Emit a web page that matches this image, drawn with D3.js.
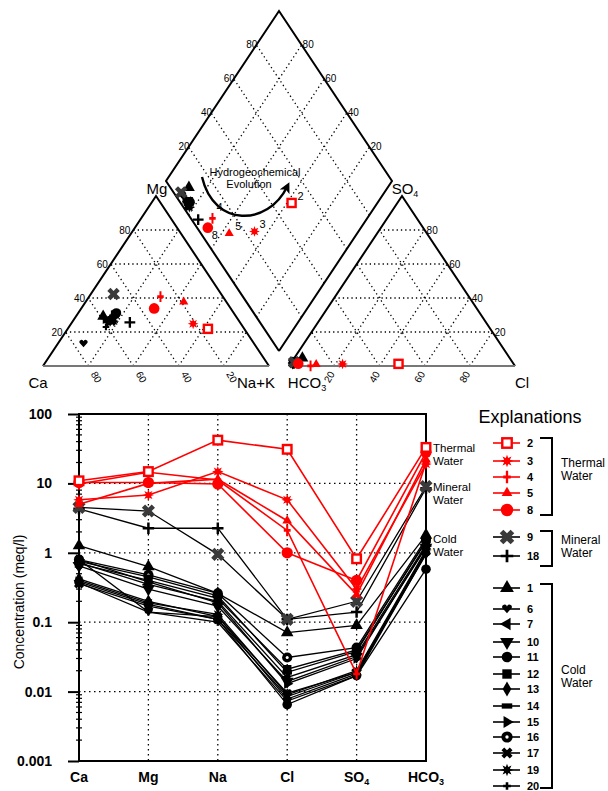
<!DOCTYPE html>
<html><head><meta charset="utf-8">
<script src="https://cdn.jsdelivr.net/npm/d3@7"></script>
<style>body{margin:0;background:#fff}svg{display:block;font-family:Arial,"Liberation Sans",Helvetica,sans-serif}</style>
</head><body><svg id="c" width="608" height="791"></svg>
<script>
// ---------------- DATA ----------------
const ions = ["Ca","Mg","Na","Cl","SO4","HCO3"];
const sampleIds = ["2","3","4","5","8","9","18","1","6","7","10","11","12","13","14","15","16","17","19","20"];
const sampleGroup = ["T","T","T","T","T","M","M","C","C","C","C","C","C","C","C","C","C","C","C","C"];
const sampleShape = ["sqOpen","burst","plusThin","tent","circleL","xcross","plus","triUp","heart","triLeft","triDown","circle","square","diamond","rect","triRight","ringDot","bowtie","burst","plusSmall"];
// concentrations (meq/l)
const ca   = [10.9, 5.8, 9.8, 5.0, 10.3, 4.5, 4.3, 1.27, 0.80, 0.72, 0.65, 0.38, 0.70, 0.42, 0.75, 0.80, 0.80, 0.36, 0.40, 0.37];
const mg   = [14.8, 6.8, 14.5, 10.0, 10.3, 4.0, 2.26, 0.63, 0.14, 0.35, 0.30, 0.18, 0.40, 0.20, 0.45, 0.38, 0.48, 0.17, 0.19, 0.14];
const na   = [42, 14.8, 11.2, 11.5, 9.8, 0.95, 2.26, 0.26, 0.12, 0.20, 0.17, 0.11, 0.22, 0.12, 0.24, 0.19, 0.26, 0.11, 0.13, 0.10];
const cl   = [31, 5.8, 2.1, 2.9, 1.0, 0.11, 0.11, 0.071, 0.0095, 0.016, 0.014, 0.0065, 0.021, 0.0078, 0.019, 0.013, 0.031, 0.0085, 0.009, 0.0073];
const so4  = [0.82, 0.30, 0.018, 0.25, 0.40, 0.20, 0.14, 0.09, 0.019, 0.034, 0.032, 0.017, 0.040, 0.018, 0.038, 0.030, 0.043, 0.019, 0.020, 0.017];
const hco3 = [33, 19, 20, 22, 28, 9.0, 8.5, 1.8, 0.95, 1.3, 1.2, 0.58, 1.45, 1.0, 1.5, 1.25, 1.6, 1.05, 1.1, 0.98];
const yTicks = [100, 10, 1, 0.1, 0.01, 0.001];
const yTickLabels = ["100","10","1","0.1","0.01","0.001"];
const pctTicks = [20, 40, 60, 80];
const groupNames = {T:["Thermal","Water"], M:["Mineral","Water"], C:["Cold","Water"]};
const groupColor = {T:"#ff0000", M:"#000", C:"#000"};

// ---------------- HELPERS ----------------
const svg = d3.select("#c");
svg.append("rect").attr("width",608).attr("height",791).attr("fill","#fff");

function starPath(ro, ri, n){
  const p=[]; for(let i=0;i<2*n;i++){const r=i%2?ri:ro; const a=Math.PI*i/n-Math.PI/2; p.push([r*Math.cos(a),r*Math.sin(a)]);}
  return "M"+p.map(d=>d[0].toFixed(2)+","+d[1].toFixed(2)).join("L")+"Z";
}
function drawMarker(g, shape, color, s){
  s = s||1;
  const m = g.append("g");
  const sym = (type,size,rot)=> m.append("path").attr("d", d3.symbol(type,size*s*s)()).attr("fill",color).attr("transform", rot?`rotate(${rot})`:null);
  switch(shape){
    case "sqOpen": m.append("rect").attr("x",-4.5*s).attr("y",-4.5*s).attr("width",9*s).attr("height",9*s).attr("fill","#fff").attr("stroke",color).attr("stroke-width",2.4); break;
    case "burst": m.append("path").attr("d",starPath(6*s,3*s,8)).attr("fill",color); break;
    case "plusThin": m.append("path").attr("d",`M${-1.1*s},${-6*s}h${2.2*s}v${4.5*s}h${2.5*s}v${3*s}h${-2.5*s}v${4.5*s}h${-2.2*s}v${-4.5*s}h${-2.5*s}v${-3*s}h${2.5*s}z`).attr("fill",color); break;
    case "tent": sym(d3.symbolTriangle,45); break;
    case "circleL": sym(d3.symbolCircle,110); break;
    case "xcross": sym(d3.symbolCross,120,45); break;
    case "plus": m.append("path").attr("d",`M${-1.3*s},${-6*s}h${2.6*s}v${4.7*s}h${4.7*s}v${2.6*s}h${-4.7*s}v${4.7*s}h${-2.6*s}v${-4.7*s}h${-4.7*s}v${-2.6*s}h${4.7*s}z`).attr("fill",color); break;
    case "triUp": sym(d3.symbolTriangle,75); break;
    case "heart": m.append("path").attr("d",`M0,${4*s}L${-4.5*s},${-1*s}A${2.3*s},${2.3*s} 0 0 1 0,${-2.5*s}A${2.3*s},${2.3*s} 0 0 1 ${4.5*s},${-1*s}Z`).attr("fill",color); break;
    case "triLeft": sym(d3.symbolTriangle,60,-90); break;
    case "triDown": sym(d3.symbolTriangle,75,180); break;
    case "circle": sym(d3.symbolCircle,80); break;
    case "square": sym(d3.symbolSquare,80); break;
    case "diamond": sym(d3.symbolDiamond,60); break;
    case "rect": m.append("rect").attr("x",-5*s).attr("y",-2.5*s).attr("width",10*s).attr("height",5*s).attr("fill",color); break;
    case "triRight": sym(d3.symbolTriangle,55,90); break;
    case "ringDot": sym(d3.symbolCircle,90); m.append("circle").attr("r",1.6*s).attr("fill","#fff"); break;
    case "bowtie": sym(d3.symbolCross,70,45); break;
    case "plusSmall": sym(d3.symbolCross,30); break;
  }
  return m;
}
const colorOf = i => sampleIds[i]==="9" ? "#3a3a3a" : groupColor[sampleGroup[i]];
const lineColorOf = i => groupColor[sampleGroup[i]];

// ---------------- PIPER ----------------
const PX0=43, PYB=366, PW=226, PH=170, PG=20, gu=PG/PW;
const toPx = ([u,v]) => [PX0+u*PW, PYB-v*PH];
const catU = (c,m,n)=>{const t=c+m+n; return [n/t+(m/t)/2, m/t];};
const anU  = (h,s,c)=>{const t=h+s+c; return [1+gu+c/t+(s/t)/2, s/t];};
const diaU = (p1,p2)=>{const t=(p2[0]-p1[0])+(p2[1]-p1[1])/2; return [p1[0]+0.5*t, p1[1]+t];};
const D = (a,b)=>[1+gu/2-0.5*a+0.5*b, gu+a+b];
const ox = 1+gu;
const pip = svg.append("g");
const gridG = pip.append("g").attr("stroke","#000").attr("stroke-width",1.3).attr("stroke-dasharray","1.3,3").attr("fill","none");
const seg = (a,b)=>{const p=toPx(a),q=toPx(b); gridG.append("line").attr("x1",p[0]).attr("y1",p[1]).attr("x2",q[0]).attr("y2",q[1]);};
pctTicks.forEach(k=>{
  const f=k/100;
  seg([f/2,f],[1-f/2,f]); seg([f,0],[f+(1-f)/2,1-f]); seg([1-f,0],[(1-f)/2,1-f]);
  seg([ox+f/2,f],[ox+1-f/2,f]); seg([ox+f,0],[ox+f+(1-f)/2,1-f]); seg([ox+1-f,0],[ox+(1-f)/2,1-f]);
  seg(D(f,0),D(f,1)); seg(D(0,f),D(1,f));
});
const outline = (pts,col)=>{pip.append("path").attr("d",d3.line()(pts.map(toPx))).attr("fill","none").attr("stroke",col).attr("stroke-width",2).attr("stroke-linejoin","miter");};
outline([[0,0],[0.5,1],[1,0]],"#000"); outline([[0,0],[1,0]],"#777");
outline([[ox,0],[ox+0.5,1],[ox+1,0]],"#000"); outline([[ox,0],[ox+1,0]],"#777");
outline([D(0,0),D(1,0),D(1,1),D(0,1),D(0,0)],"#000");

// tick labels
const tl = pip.append("g").attr("font-size",10).attr("fill","#000");
pctTicks.forEach(k=>{
  const f=k/100;
  let p=toPx([f/2,f]); tl.append("text").attr("x",p[0]-3).attr("y",p[1]+4).attr("text-anchor","end").text(k);
  p=toPx([ox+1-f/2,f]); tl.append("text").attr("x",p[0]+2).attr("y",p[1]+4).text(k);
  p=toPx(D(1,f)); tl.append("text").attr("x",p[0]+1).attr("y",p[1]+3).attr("text-anchor","end").text(k);
  p=toPx(D(f,1)); tl.append("text").attr("x",p[0]+1).attr("y",p[1]+3).text(k);
  p=toPx([1-f,0]); tl.append("text").attr("transform",`translate(${p[0]+8},${p[1]+11}) rotate(60)`).attr("text-anchor","middle").attr("dy","0.35em").text(k);
  p=toPx([ox+f,0]); tl.append("text").attr("transform",`translate(${p[0]-5},${p[1]+11}) rotate(-60)`).attr("text-anchor","middle").attr("dy","0.35em").text(k);
});
// corner labels
const cl1 = pip.append("g").attr("font-size",15).attr("fill","#000").attr("text-anchor","middle");
cl1.append("text").attr("x",157).attr("y",194).text("Mg");
const so = cl1.append("text").attr("x",405).attr("y",194); so.append("tspan").text("SO"); so.append("tspan").attr("font-size",9).attr("dy",3).text("4");
cl1.append("text").attr("x",38).attr("y",388).text("Ca");
cl1.append("text").attr("x",256).attr("y",388).text("Na+K");
const hc = cl1.append("text").attr("x",307).attr("y",388); hc.append("tspan").text("HCO"); hc.append("tspan").attr("font-size",9).attr("dy",3).text("3");
cl1.append("text").attr("x",522).attr("y",388).text("Cl");

// evolution arrow
svg.append("defs").append("marker").attr("id","ah").attr("viewBox","0 0 10 10").attr("refX",5).attr("refY",5)
  .attr("markerWidth",4.5).attr("markerHeight",4.5).attr("orient","auto")
  .append("path").attr("d","M0,0L10,5L0,10L2.5,5Z").attr("fill","#000");
pip.append("path").attr("d","M202,177 C214,228 268,226 287,187").attr("fill","none").attr("stroke","#000").attr("stroke-width",2.4).attr("marker-end","url(#ah)");
pip.append("text").attr("x",255).attr("y",176).attr("font-size",11).attr("text-anchor","middle").text("Hydrogeochemical");
pip.append("text").attr("x",249).attr("y",188).attr("font-size",11).attr("text-anchor","middle").text("Evolution");

// points: cold first, then mineral, then thermal
const order = d3.range(sampleIds.length).reverse();
const ptG = pip.append("g");
const thermalLabelOff = {"2":[6,-3],"3":[5,-3],"4":[4,-7],"5":[6,-3],"8":[4,11]};
order.forEach(i=>{
  const c = catU(ca[i],mg[i],na[i]);
  const a = anU(hco3[i],so4[i],cl[i]);
  const d = diaU(c,a);
  [c,a,d].forEach(u=>{const p=toPx(u); drawMarker(ptG,sampleShape[i],colorOf(i),0.9).attr("transform",`translate(${p[0]},${p[1]})`);});
  if(sampleGroup[i]==="T"){
    const p=toPx(d), o=thermalLabelOff[sampleIds[i]];
    ptG.append("text").attr("x",p[0]+o[0]).attr("y",p[1]+o[1]).attr("font-size",11).text(sampleIds[i]);
  }
});

// ---------------- SCHOELLER ----------------
const x = d3.scalePoint().domain(ions).range([79,426]);
const y = d3.scaleLog().domain([0.001,100]).range([761,414]);
const sch = svg.append("g");
const grid2 = sch.append("g").attr("stroke","#000").attr("stroke-width",1.3).attr("stroke-dasharray","1.5,3.5");
ions.slice(1,5).forEach(k=>grid2.append("line").attr("x1",x(k)).attr("x2",x(k)).attr("y1",414).attr("y2",761));
yTicks.slice(1,5).forEach(v=>grid2.append("line").attr("x1",79).attr("x2",426).attr("y1",y(v)).attr("y2",y(v)));
// frame
sch.append("rect").attr("x",79).attr("y",414).attr("width",347).attr("height",347).attr("fill","none").attr("stroke","#000").attr("stroke-width",2);
// y axis ticks
const yAxis = d3.axisLeft(y).tickValues(yTicks).tickSize(11).tickFormat((d,i)=>yTickLabels[i]);
const ya = sch.append("g").attr("transform","translate(79,0)").call(yAxis);
ya.select(".domain").remove();
ya.selectAll(".tick line").attr("stroke-width",2);
ya.selectAll("text").attr("font-size",14).attr("font-weight","bold").attr("x",-27).attr("font-family","Arial,'Liberation Sans',sans-serif");
const minor=[]; for(let e=-3;e<2;e++) for(let m=2;m<10;m++) minor.push(m*Math.pow(10,e));
sch.append("g").selectAll("line").data(minor).join("line").attr("x1",76).attr("x2",82).attr("y1",d=>y(d)).attr("y2",d=>y(d)).attr("stroke","#000").attr("stroke-width",1.2);
// x labels
const xl = sch.append("g").attr("font-size",14).attr("font-weight","bold").attr("text-anchor","middle");
ions.forEach(k=>{
  const t = xl.append("text").attr("x",x(k)).attr("y",782);
  if(k==="SO4"||k==="HCO3"){ t.append("tspan").text(k.slice(0,-1)); t.append("tspan").attr("font-size",9).attr("dy",3).text(k.slice(-1)); }
  else t.text(k);
});
sch.append("text").attr("transform","translate(24,602) rotate(-90)").attr("text-anchor","middle").attr("font-size",14).text("Concentration (meq/l)");

// lines
const vals = i=>[ca[i],mg[i],na[i],cl[i],so4[i],hco3[i]];
const line = d3.line().x((d,j)=>x(ions[j])).y(d=>y(d));
order.forEach(i=>{
  sch.append("path").attr("d",line(vals(i))).attr("fill","none").attr("stroke",lineColorOf(i)).attr("stroke-width",sampleGroup[i]==="T"?1.6:1.3);
  vals(i).forEach((v,j)=>drawMarker(sch,sampleShape[i],colorOf(i),0.95).attr("transform",`translate(${x(ions[j])},${y(v)})`));
});
// right annotations
const ann = sch.append("g").attr("font-size",11.5);
[["T",452],["M",491],["C",543]].forEach(([g,yy])=>{
  ann.append("text").attr("x",433).attr("y",yy).text(groupNames[g][0]);
  ann.append("text").attr("x",433).attr("y",yy+13).text(groupNames[g][1]);
});

// ---------------- LEGEND ----------------
const leg = svg.append("g");
leg.append("text").attr("x",530).attr("y",423).attr("text-anchor","middle").attr("font-size",18).text("Explanations");
const legendY = [443,461,477,493,510, 537,556, 588,609,624,642,657,674,689,706,722,737,753,770,786];
sampleIds.forEach((id,i)=>{
  const yy=legendY[i];
  leg.append("line").attr("x1",493).attr("x2",520).attr("y1",yy).attr("y2",yy).attr("stroke",lineColorOf(i)).attr("stroke-width",1.6);
  drawMarker(leg,sampleShape[i],colorOf(i),1.05).attr("transform",`translate(507,${yy})`);
  leg.append("text").attr("x",527).attr("y",yy+4).attr("font-size",11).attr("font-weight","bold").text(id);
});
const brackets = [["T",438,515,463],["M",531,566,540],["C",584,788,670]];
brackets.forEach(([g,y1,y2,ty])=>{
  leg.append("path").attr("d",`M540,${y1}H552V${y2}H540`).attr("fill","none").attr("stroke","#000").attr("stroke-width",2);
  leg.append("text").attr("x",561).attr("y",ty+4).attr("font-size",12).text(groupNames[g][0]);
  leg.append("text").attr("x",561).attr("y",ty+17).attr("font-size",12).text(groupNames[g][1]);
});
</script></body></html>
